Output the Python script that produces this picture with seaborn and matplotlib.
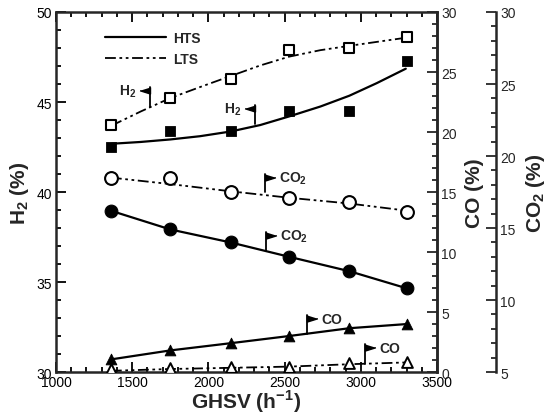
import matplotlib
matplotlib.use('Agg')
import matplotlib.pyplot as plt
from matplotlib.lines import Line2D
from matplotlib.ticker import MultipleLocator
import numpy as np
import pandas as pd
import seaborn as sns

# values
ghsv = [1360, 1750, 2145, 2530, 2925, 3305]

h2_hts = [42.5, 43.4, 43.4, 44.5, 44.5, 47.3]
h2_lts = [43.7, 45.2, 46.3, 47.9, 48.0, 48.6]

# the two H2 trend curves, read at more points along each curve
fit_x = [1365, 1555, 1750, 1945, 2145, 2340, 2530, 2735, 2925, 3105, 3295]
h2_hts_fit = [42.68, 42.78, 42.92, 43.1, 43.36, 43.72, 44.2, 44.75, 45.35, 46.05, 46.85]
h2_lts_fit = [43.69, 44.47, 45.22, 45.83, 46.44, 47.03, 47.52, 47.88, 48.12, 48.34, 48.57]

co2_hts = [16.2, 14.9, 14.0, 13.0, 12.0, 10.8]
co2_lts = [18.5, 18.5, 17.5, 17.1, 16.8, 16.1]
co2_lts_fit = [18.5, 18.05, 17.55, 17.1, 16.7, 16.2]

co_hts = [1.05, 1.8, 2.4, 3.0, 3.65, 4.0]
co_lts = [0.25, 0.3, 0.45, 0.45, 0.75, 0.8]
co_lts_fit = [0.1, 0.25, 0.35, 0.45, 0.65, 0.8]

df = pd.DataFrame({
    'ghsv': ghsv,
    'h2_hts': h2_hts, 'h2_lts': h2_lts,
    'co2_hts': co2_hts, 'co2_lts': co2_lts, 'co2_lts_fit': co2_lts_fit,
    'co_hts': co_hts, 'co_lts': co_lts, 'co_lts_fit': co_lts_fit,
})
fits = pd.DataFrame({'ghsv': fit_x, 'h2_hts_fit': h2_hts_fit, 'h2_lts_fit': h2_lts_fit})

sns.set_style('ticks')
plt.rcParams['font.family'] = ['Liberation Sans', 'DejaVu Sans']
plt.rcParams['mathtext.fontset'] = 'custom'
plt.rcParams['mathtext.rm'] = 'Liberation Sans'
plt.rcParams['mathtext.bf'] = 'Liberation Sans:bold'
plt.rcParams['axes.linewidth'] = 1.8

DDOT = (0, (6, 2, 1.5, 2, 1.5, 2))

fig = plt.figure(figsize=(5.46, 4.14), dpi=100)
ax = fig.add_axes([0.1026, 0.099, 0.6978, 0.8696])
ax_co = ax.twinx()
ax_co2 = ax.twinx()
ax_co2.spines['right'].set_position(('axes', 1.155))
for a in (ax_co, ax_co2):
    for s in ('left', 'top', 'bottom'):
        a.spines[s].set_visible(False)

# H2 (left axis)
sns.lineplot(data=fits, x='ghsv', y='h2_hts_fit', ax=ax, color='k', lw=1.6)
sns.lineplot(data=fits, x='ghsv', y='h2_lts_fit', ax=ax, color='k', lw=1.3, linestyle=DDOT)
sns.scatterplot(data=df, x='ghsv', y='h2_hts', ax=ax, marker='s', s=55,
                color='k', edgecolor='k', zorder=5)
sns.scatterplot(data=df, x='ghsv', y='h2_lts', ax=ax, marker='s', s=50,
                facecolor='white', edgecolor='k', linewidth=1.5, zorder=5)

# CO2 (outer right axis)
sns.lineplot(data=df, x='ghsv', y='co2_hts', ax=ax_co2, color='k', lw=1.6)
sns.lineplot(data=df, x='ghsv', y='co2_lts_fit', ax=ax_co2, color='k', lw=1.3, linestyle=DDOT)
sns.scatterplot(data=df, x='ghsv', y='co2_hts', ax=ax_co2, marker='o', s=85,
                color='k', edgecolor='k', zorder=5)
sns.scatterplot(data=df, x='ghsv', y='co2_lts', ax=ax_co2, marker='o', s=85,
                facecolor='white', edgecolor='k', linewidth=1.5, zorder=5)

# CO (inner right axis)
sns.lineplot(data=df, x='ghsv', y='co_hts', ax=ax_co, color='k', lw=1.6)
sns.lineplot(data=df, x='ghsv', y='co_lts_fit', ax=ax_co, color='k', lw=1.3, linestyle=DDOT)
sns.scatterplot(data=df, x='ghsv', y='co_hts', ax=ax_co, marker='^', s=60,
                color='k', edgecolor='k', zorder=5)
sns.scatterplot(data=df, x='ghsv', y='co_lts', ax=ax_co, marker='^', s=60,
                facecolor='white', edgecolor='k', linewidth=1.4, zorder=5)

ax.set_xlim(1000, 3500)
ax.set_ylim(30, 50)
ax_co.set_ylim(0, 30)
ax_co2.set_ylim(5, 30)

ax.xaxis.set_major_locator(MultipleLocator(500))
ax.xaxis.set_minor_locator(MultipleLocator(100))
ax.yaxis.set_major_locator(MultipleLocator(5))
ax.yaxis.set_minor_locator(MultipleLocator(1))
for a in (ax_co, ax_co2):
    a.yaxis.set_major_locator(MultipleLocator(5))
    a.yaxis.set_minor_locator(MultipleLocator(1))

ax.tick_params(which='both', direction='in', top=True, right=False, width=1.3,
               labelsize=10, colors='k')
ax.tick_params(axis='x', pad=2)
ax.tick_params(axis='y', pad=3)
ax.tick_params(which='major', length=7)
ax.tick_params(which='minor', length=3.5)
for a in (ax_co, ax_co2):
    a.tick_params(which='both', direction='in', width=1.3, labelsize=10, pad=3)
    a.tick_params(which='major', length=7)
    a.tick_params(which='minor', length=3.5)

ax.set_xlabel(r'GHSV (h$^{\mathbf{-1}}$)', fontsize=15, fontweight='bold', labelpad=-1)
ax.set_ylabel(r'$\mathbf{H_2}$ (%)', fontsize=15, fontweight='bold', labelpad=4)
ax_co.set_ylabel('CO (%)', fontsize=15, fontweight='bold', labelpad=6)
ax_co2.set_ylabel(r'$\mathbf{CO_2}$ (%)', fontsize=15, fontweight='bold', labelpad=6)

# legend
handles = [Line2D([], [], color='k', lw=1.6),
           Line2D([], [], color='k', lw=1.3, linestyle=DDOT)]
ax.legend(handles, ['HTS', 'LTS'], loc='upper left', bbox_to_anchor=(0.129, 0.947),
          frameon=False, prop={'weight': 'bold', 'size': 10}, handlelength=4.4,
          handletextpad=0.5, borderpad=0, borderaxespad=0, labelspacing=0.5)

# flag markers for the labels
flag_left = [(0, 0), (0, -0.75), (-1.2, -0.375)]
flag_right = [(0, 0), (0, -0.75), (1.2, -0.375)]


def flag(x, y0, y1, side, label):
    ax.plot([x, x], [y0, y1], color='k', lw=1.3, zorder=6)
    ax.plot([x], [y1], marker=flag_left if side == 'left' else flag_right,
            markersize=15, color='k', zorder=6)
    if side == 'left':
        ax.annotate(label, xy=(x, y1), xytext=(-10, -2.7), textcoords='offset points',
                    ha='right', va='center', fontsize=10, fontweight='bold')
    else:
        ax.annotate(label, xy=(x, y1), xytext=(10, -2.7), textcoords='offset points',
                    ha='left', va='center', fontsize=10, fontweight='bold')


flag(1619, 44.73, 45.85, 'left', r'$\mathbf{H_2}$')
flag(2307, 43.79, 44.85, 'left', r'$\mathbf{H_2}$')
flag(2373, 40.0, 41.0, 'right', r'$\mathbf{CO_2}$')
flag(2379, 36.73, 37.8, 'right', r'$\mathbf{CO_2}$')
flag(2649, 32.12, 33.15, 'right', 'CO')
flag(3030, 30.45, 31.55, 'right', 'CO')

fig.savefig('out.png', dpi=100)
